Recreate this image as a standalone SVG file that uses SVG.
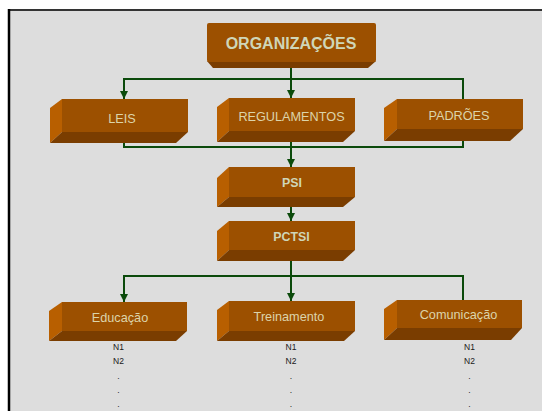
<svg xmlns="http://www.w3.org/2000/svg" width="542" height="411" viewBox="0 0 542 411">
  <style>
    .front { fill: #9c5000; }
    .side { fill: #b85f00; }
    .base { fill: #7a3d00; }
    .lbl { font-family: "Liberation Sans", Arial, sans-serif; font-size: 12.7px; fill: #dcd4aa; text-anchor: middle; }
    .bold { font-weight: bold; fill: #cfd6b8; }
    .lvl { font-family: "Liberation Sans", Arial, sans-serif; font-size: 8.5px; fill: #1a1a1a; text-anchor: middle; }
    .wire { fill: none; stroke: #0b4a0b; stroke-width: 2; }
  </style>
  <defs>
    <marker id="arrow" viewBox="0 0 10 10" refX="10" refY="5" markerWidth="9" markerHeight="8" markerUnits="userSpaceOnUse" orient="auto">
      <path d="M0,0 L10,5 L0,10 z" fill="#0b4a0b"/>
    </marker>
  </defs>

  <!-- page -->
  <rect x="0" y="0" width="542" height="411" fill="#ffffff"/>
  <rect x="9" y="10" width="533" height="401" fill="#dddddd"/>
  <line x1="8" y1="10" x2="542" y2="10" stroke="#333333" stroke-width="2"/>
  <line x1="9" y1="9" x2="9" y2="411" stroke="#000000" stroke-width="2.5"/>

  <!-- connectors -->
  <g id="connectors">
    <path class="wire" d="M291,67 V98" marker-end="url(#arrow)"/>
    <path class="wire" d="M463,99 V79 H124 V99" marker-end="url(#arrow)"/>
    <path class="wire" d="M124,143 V147 H463 V141"/>
    <path class="wire" d="M291,142 V167" marker-end="url(#arrow)"/>
    <path class="wire" d="M291,207 V221" marker-end="url(#arrow)"/>
    <path class="wire" d="M291,261 V301" marker-end="url(#arrow)"/>
    <path class="wire" d="M463,300 V276 H124 V302" marker-end="url(#arrow)"/>
  </g>

  <!-- nodes -->
  <g id="organizacoes">
    <polygon class="base" points="207,61 376,61 368,68 213,68"/>
    <rect class="front" x="207" y="23" width="169" height="39" rx="2"/>
    <text class="lbl bold" x="291" y="49" style="font-size:16px">ORGANIZAÇÕES</text>
  </g>

  <g id="leis">
    <polygon class="side" points="62,99 50,108 50,143 62,132"/>
    <polygon class="base" points="62,132 188,132 176,143 50,143"/>
    <rect class="front" x="62" y="99" width="126" height="33"/>
    <text class="lbl" x="122" y="123">LEIS</text>
  </g>

  <g id="regulamentos">
    <polygon class="side" points="229,98 217,107 217,142 229,131"/>
    <polygon class="base" points="229,131 355,131 343,142 217,142"/>
    <rect class="front" x="229" y="98" width="126" height="33"/>
    <text class="lbl" x="291.5" y="121">REGULAMENTOS</text>
  </g>

  <g id="padroes">
    <polygon class="side" points="397,99 384,108 384,141 397,129"/>
    <polygon class="base" points="397,129 523,129 510,141 384,141"/>
    <rect class="front" x="397" y="99" width="126" height="30"/>
    <text class="lbl" x="459" y="120">PADRÕES</text>
  </g>

  <g id="psi">
    <polygon class="side" points="229,167 217,178 217,207 229,197"/>
    <polygon class="base" points="229,197 355,197 343,207 217,207"/>
    <rect class="front" x="229" y="167" width="126" height="30"/>
    <text class="lbl bold" x="292" y="187" style="font-size:12.4px">PSI</text>
  </g>

  <g id="pctsi">
    <polygon class="side" points="229,221 217,231 217,261 229,250"/>
    <polygon class="base" points="229,250 355,250 343,261 217,261"/>
    <rect class="front" x="229" y="221" width="126" height="29"/>
    <text class="lbl bold" x="291.5" y="241" style="font-size:12.4px">PCTSI</text>
  </g>

  <g id="educacao">
    <polygon class="side" points="62,302 49,311 49,341 62,331"/>
    <polygon class="base" points="62,331 187,331 176,341 49,341"/>
    <rect class="front" x="62" y="302" width="125" height="29"/>
    <text class="lbl" x="120" y="322">Educação</text>
    <text class="lvl" x="118.5" y="350">N1</text>
    <text class="lvl" x="118.5" y="364">N2</text>
    <text class="lvl" x="118.5" y="379">.</text>
    <text class="lvl" x="118.5" y="393">.</text>
    <text class="lvl" x="118.5" y="407">.</text>
  </g>

  <g id="treinamento">
    <polygon class="side" points="229,301 217,310 217,341 229,331"/>
    <polygon class="base" points="229,331 355,331 344,341 217,341"/>
    <rect class="front" x="229" y="301" width="126" height="30"/>
    <text class="lbl" x="289" y="321">Treinamento</text>
    <text class="lvl" x="291" y="350">N1</text>
    <text class="lvl" x="291" y="364">N2</text>
    <text class="lvl" x="291" y="379">.</text>
    <text class="lvl" x="291" y="393">.</text>
    <text class="lvl" x="291" y="407">.</text>
  </g>

  <g id="comunicacao">
    <polygon class="side" points="397,300 384,309 384,340 397,328"/>
    <polygon class="base" points="397,328 522,328 511,340 384,340"/>
    <rect class="front" x="397" y="300" width="125" height="28"/>
    <text class="lbl" x="458.5" y="319">Comunicação</text>
    <text class="lvl" x="469.5" y="350">N1</text>
    <text class="lvl" x="469.5" y="364">N2</text>
    <text class="lvl" x="469.5" y="379">.</text>
    <text class="lvl" x="469.5" y="393">.</text>
    <text class="lvl" x="469.5" y="407">.</text>
  </g>
</svg>
